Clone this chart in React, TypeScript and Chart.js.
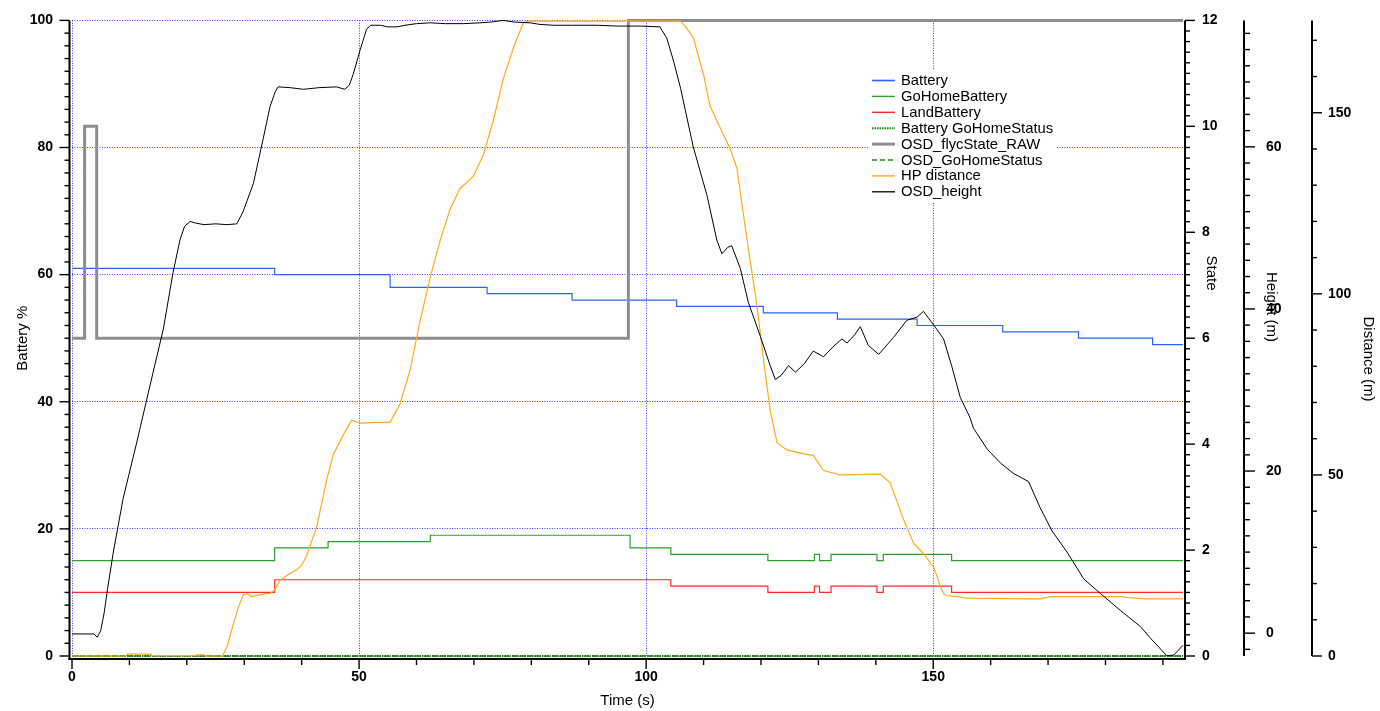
import React, { useEffect, useRef } from 'react';
import { Chart, registerables } from 'chart.js';

Chart.register(...registerables);

const FONT = '"Liberation Sans", Arial, Helvetica, sans-serif';

// ---------- axes ----------
const timeMin = 0;
const timeMax = 193.5;
const batteryMin = 0;
const batteryMax = 100;
const stateMin = 0;
const stateMax = 12;
const heightMin = -2.82;
const heightMax = 75.6;
const distMin = 0;
const distMax = 175.5;

const xTitle = 'Time (s)';
const batteryTitle = 'Battery %';
const stateTitle = 'State';
const heightTitle = 'Height (m)';
const distTitle = 'Distance (m)';

// ---------- series ----------
const batteryT = [0, 35.3, 55.4, 72.3, 87.1, 105.3, 120.4, 133.3, 147.2, 162.1, 175.3, 188.2, 193.5];
const batteryV = [61, 60, 58, 57, 56, 55, 54, 53, 52, 51, 50, 49, 49];

const goHomeT = [0, 35.3, 44.6, 62.4, 97.2, 104.3, 121.2, 129.3, 130.2, 132.2, 140.2, 141.3, 153.2, 193.5];
const goHomeV = [15, 17, 18, 19, 17, 16, 15, 16, 15, 16, 15, 16, 15, 15];

const landT = [0, 35.3, 104.3, 121.2, 129.3, 130.2, 132.2, 140.2, 141.3, 153.2, 193.5];
const landV = [10, 12, 11, 10, 11, 10, 11, 10, 11, 10, 10];

const statusT = [0, 193.5];
const batteryGoHomeStatusV = [0, 0];
const osdGoHomeStatusV = [0, 0];

const flycT = [0, 2.2, 4.3, 96.9, 193.5];
const flycV = [6, 10, 6, 12, 12];

const distT = [
  0, 9.3, 9.6, 13.8, 14.0, 21.6, 21.8, 23.0, 23.2, 26.2, 27.0, 28.1, 29.0, 29.8, 30.5, 31.3, 33.0, 34.5, 35.2,
  36.2, 37.4, 39.1, 40.0, 40.9, 42.6, 44.4, 45.5, 47.3, 48.7, 50.2, 53.0, 55.4, 57.1, 58.9, 60.6, 62.4, 64.1,
  65.9, 67.6, 69.9, 71.7, 73.4, 75.1, 76.9, 78.6, 79.5, 90.0, 106.0, 107.0, 108.2, 110.0, 111.1, 112.9, 114.6,
  115.8, 117.5, 119.3, 120.4, 121.6, 122.8, 124.5, 127.4, 129.1, 130.9, 133.8, 140.8, 142.5, 144.8, 146.6,
  148.3, 150.1, 151.2, 151.8, 152.4, 154.1, 155.9, 168.6, 170.4, 182.6, 184.0, 187.2, 193.5,
];
const distV = [
  0, 0, 0.5, 0.5, 0.1, 0.1, 0.3, 0.3, 0, 0, 2.5, 8.8, 13.5, 16.8, 17.2, 16.4, 17.0, 17.3, 18.0,
  20.8, 22.2, 23.8, 25.0, 27.8, 35.5, 48.9, 55.6, 61.2, 65.1, 64.3, 64.5, 64.5, 69.5, 79.0, 92.3, 104.6, 114.6,
  123.6, 129.1, 132.4, 138.6, 148.0, 159.2, 168.0, 174.8, 175.3, 175.3, 175.3, 173.5, 170.8, 160.5, 152.0, 145.8, 140.2,
  134.7, 115.7, 96.8, 82.3, 67.8, 58.9, 56.9, 55.8, 55.4, 51.2, 50.0, 50.2, 47.8, 37.8, 31.1,
  28.3, 24.4, 19.5, 17.2, 16.7, 16.4, 16.0, 15.8, 16.4, 16.4, 16.1, 15.8, 15.8,
];

const heightT = [
  0, 3.8, 4.4, 5.0, 5.6, 6.2, 7.2, 8.9, 11.3, 13.6, 15.9, 17.6, 18.8, 19.6, 20.6, 21.5, 23.0, 25.0, 27.0, 28.7,
  29.8, 31.6, 33.3, 34.5, 35.4, 35.9, 38.0, 40.3, 43.0, 46.1, 47.5, 48.3, 49.0, 50.2, 51.3, 52.0, 53.7, 55.0,
  56.6, 58.0, 60.0, 62.4, 65.0, 68.2, 71.0, 73.0, 75.1, 77.0, 79.8, 81.5, 83.9, 87.0, 91.4, 95.0, 99.0, 102.4,
  103.6, 104.8, 106.0, 108.2, 110.6, 112.3, 113.2, 114.2, 114.9, 116.4, 117.8, 119.9, 121.6, 122.5, 123.5,
  124.8, 126.0, 127.5, 129.1, 130.9, 132.5, 134.1, 135.0, 136.3, 137.3, 138.7, 140.5, 143.1, 145.4, 147.2,
  148.3, 150.1, 151.8, 153.2, 154.7, 156.4, 157.0, 159.4, 161.7, 164.0, 166.6, 168.6, 170.7, 173.3, 176.2,
  179.1, 182.6, 186.1, 187.8, 190.7, 191.9, 193.5,
];
const heightV = [
  -0.1, -0.1, -0.5, 0.3, 2.5, 5.5, 10.0, 16.6, 23.6, 30.6, 37.5, 44.5, 48.5, 50.2, 50.8, 50.6, 50.4, 50.5, 50.4, 50.5,
  52.0, 55.5, 61.0, 65.0, 66.8, 67.4, 67.3, 67.1, 67.3, 67.4, 67.1, 67.6, 69.0, 72.0, 74.5, 75.0, 75.0, 74.8,
  74.8, 75.0, 75.2, 75.3, 75.2, 75.2, 75.3, 75.4, 75.6, 75.4, 75.3, 75.1, 75.0, 75.0, 75.0, 74.9, 74.9, 74.8,
  73.4, 70.5, 67.2, 60.0, 54.0, 48.5, 46.8, 47.6, 47.8, 45.0, 40.8, 36.6, 33.0, 31.3, 31.8,
  33.0, 32.2, 33.2, 34.8, 34.1, 35.3, 36.3, 35.8, 36.8, 37.8, 35.5, 34.4, 36.5, 38.6, 39.0,
  39.7, 38.0, 36.3, 33.0, 29.1, 26.6, 25.3, 22.7, 21.0, 19.7, 18.7, 15.5, 12.6, 10.0, 6.7,
  4.9, 2.8, 0.8, -0.6, -2.8, -2.7, -1.5,
];

const seriesLabels = [
  'Battery',
  'GoHomeBattery',
  'LandBattery',
  'Battery GoHomeStatus',
  'OSD_flycState_RAW',
  'OSD_GoHomeStatus',
  'HP distance',
  'OSD_height',
];

const GRID_COLOR = '#3a3aff';

const pts = (t: number[], v: number[]) => t.map((x, i) => ({ x, y: v[i] }));

const framePlugin = {
  id: 'frameAndLegend',
  afterDraw(chart: any) {
    const { ctx, chartArea: ca, scales } = chart;
    ctx.save();
    ctx.strokeStyle = '#000';
    ctx.fillStyle = '#000';
    const seg = (x1: number, y1: number, x2: number, y2: number, w: number) => {
      ctx.lineWidth = w;
      ctx.beginPath();
      ctx.moveTo(x1, y1);
      ctx.lineTo(x2, y2);
      ctx.stroke();
    };
    const leftX = ca.left - 2.5;
    const bottomY = ca.bottom + 3;
    const stateX = ca.right + 2;

    // left battery axis
    seg(leftX, ca.top, leftX, bottomY + 1, 2);
    const yB = scales.yB;
    for (let k = 0; k <= 50; k++) {
      const py = yB.getPixelForValue(k * 2);
      seg(leftX - (k % 10 === 0 ? 10 : 5), py, leftX, py, 1.4);
    }
    // bottom time axis
    seg(leftX - 1, bottomY, stateX + 1, bottomY, 2);
    const xs = scales.x;
    for (let k = 0; k <= 19; k++) {
      const px = xs.getPixelForValue(k * 10);
      seg(px, bottomY, px, bottomY + (k % 5 === 0 ? 10 : 6), 1.4);
    }
    // state axis
    seg(stateX, ca.top, stateX, bottomY + 1, 2);
    const yS = scales.yS;
    for (let k = 0; k <= 60; k++) {
      const py = yS.getPixelForValue(k * 0.2);
      seg(stateX, py, stateX + (k % 10 === 0 ? 10 : 5), py, 1.4);
    }
    // height axis
    const yH = scales.yH;
    const hx = yH.left;
    seg(hx, ca.top, hx, ca.bottom, 2);
    for (let k = -1; k <= 37; k++) {
      const py = yH.getPixelForValue(k * 2);
      seg(hx, py, hx + (k % 10 === 0 ? 11 : 6), py, 1.4);
    }
    // distance axis
    const yD = scales.yD;
    const dx = yD.left;
    seg(dx, ca.top, dx, ca.bottom, 2);
    for (let k = 0; k <= 17; k++) {
      const py = yD.getPixelForValue(k * 10);
      seg(dx, py, dx + (k % 5 === 0 ? 10 : 5), py, 1.4);
    }

    // right-hand axis titles
    ctx.font = `15px ${FONT}`;
    ctx.textAlign = 'center';
    ctx.textBaseline = 'middle';
    const rotTitle = (text: string, x: number, y: number) => {
      ctx.save();
      ctx.translate(x, y);
      ctx.rotate(Math.PI / 2);
      ctx.fillText(text, 0, 0);
      ctx.restore();
    };
    rotTitle(stateTitle, stateX + 26, 273);
    rotTitle(heightTitle, hx + 27, 307);
    rotTitle(distTitle, dx + 56, 359);

    // legend
    ctx.fillStyle = '#fff';
    ctx.fillRect(869, 70, 187, 133);
    ctx.font = `14.8px ${FONT}`;
    ctx.textAlign = 'left';
    chart.data.datasets.forEach((ds: any, i: number) => {
      const y = 80.5 + i * 15.9;
      ctx.strokeStyle = ds.borderColor;
      ctx.lineWidth = ds.legendWidth || ds.borderWidth;
      ctx.setLineDash(ds.borderDash || []);
      ctx.beginPath();
      ctx.moveTo(872, y);
      ctx.lineTo(895, y);
      ctx.stroke();
      ctx.setLineDash([]);
      ctx.fillStyle = '#000';
      ctx.fillText(ds.label, 901, y + 0.5);
    });
    ctx.restore();
  },
};

export default function App() {
  const ref = useRef<HTMLCanvasElement | null>(null);

  useEffect(() => {
    if (!ref.current) return;
    Chart.defaults.font.family = FONT;
    const datasets: any[] = [
      { label: seriesLabels[0], data: pts(batteryT, batteryV), yAxisID: 'yB', stepped: true, borderColor: '#2b63ff', borderWidth: 1.2, legendWidth: 1.6 },
      { label: seriesLabels[1], data: pts(goHomeT, goHomeV), yAxisID: 'yB', stepped: true, borderColor: '#2ca02c', borderWidth: 1.2, legendWidth: 1.4 },
      { label: seriesLabels[2], data: pts(landT, landV), yAxisID: 'yB', stepped: true, borderColor: '#ff2a2a', borderWidth: 1.2, legendWidth: 1.4 },
      { label: seriesLabels[3], data: pts(statusT, batteryGoHomeStatusV), yAxisID: 'yB', borderColor: '#138a13', borderWidth: 2, borderDash: [1.5, 1], bgLine: true },
      { label: seriesLabels[4], data: pts(flycT, flycV), yAxisID: 'yS', stepped: true, borderColor: '#8e8e8e', borderWidth: 3 },
      { label: seriesLabels[5], data: pts(statusT, osdGoHomeStatusV), yAxisID: 'yS', borderColor: '#138a13', borderWidth: 1.3, borderDash: [5, 3] },
      { label: seriesLabels[6], data: pts(distT, distV), yAxisID: 'yD', borderColor: '#ffab1a', borderWidth: 1.2, legendWidth: 1.4 },
      { label: seriesLabels[7], data: pts(heightT, heightV), yAxisID: 'yH', borderColor: '#000000', borderWidth: 1, legendWidth: 1.3 },
    ];
    datasets.forEach((d, i) => {
      d.order = 10 - i;
      d.pointRadius = 0;
      d.fill = false;
      d.tension = 0;
      d.clip = 4;
    });

    const tickFont = { size: 14, weight: 'bold' as const, family: FONT };
    const hiddenGrid = { drawOnChartArea: false, tickLength: 10, tickColor: 'transparent' };

    const chart = new Chart(ref.current, {
      type: 'line',
      data: { datasets },
      options: {
        animation: false,
        responsive: false,
        devicePixelRatio: 1,
        layout: { padding: { top: 17, left: 0, right: 0, bottom: 0 } },
        plugins: { legend: { display: false }, tooltip: { enabled: false } },
        scales: {
          x: {
            type: 'linear',
            position: 'bottom',
            min: timeMin,
            max: timeMax,
            afterFit: (s: any) => { s.height = 55; },
            ticks: { stepSize: 50, includeBounds: false, font: tickFont, color: '#000', padding: 3, maxRotation: 0, autoSkip: false },
            grid: { color: GRID_COLOR, lineWidth: 1, tickLength: 10, tickColor: 'transparent' },
            border: { display: false, dash: [1, 1.5] },
            title: { display: true, text: xTitle, color: '#000', font: { size: 15, family: FONT }, padding: { top: 0, bottom: 1 } },
          },
          yB: {
            type: 'linear',
            position: 'left',
            min: batteryMin,
            max: batteryMax,
            afterFit: (s: any) => { s.width = 72; },
            ticks: { stepSize: 20, font: tickFont, color: '#000', padding: 9 },
            grid: { color: GRID_COLOR, lineWidth: 1, tickLength: 10, tickColor: 'transparent' },
            border: { display: false, dash: [1, 1.5] },
            title: { display: true, text: batteryTitle, color: '#000', font: { size: 15, family: FONT }, padding: { top: 14, bottom: 0 } },
          },
          yS: {
            type: 'linear',
            position: 'right',
            weight: 1,
            min: stateMin,
            max: stateMax,
            afterFit: (s: any) => { s.width = 61; },
            ticks: { stepSize: 2, font: tickFont, color: '#000', padding: 9 },
            grid: hiddenGrid,
            border: { display: false },
          },
          yH: {
            type: 'linear',
            position: 'right',
            weight: 2,
            min: heightMin,
            max: heightMax,
            afterFit: (s: any) => { s.width = 68; },
            ticks: { stepSize: 20, includeBounds: false, font: tickFont, color: '#000', padding: 12 },
            grid: hiddenGrid,
            border: { display: false },
          },
          yD: {
            type: 'linear',
            position: 'right',
            weight: 3,
            min: distMin,
            max: distMax,
            afterFit: (s: any) => { s.width = 68; },
            ticks: { stepSize: 50, includeBounds: false, font: tickFont, color: '#000', padding: 6 },
            grid: hiddenGrid,
            border: { display: false },
          },
        },
      } as any,
      plugins: [framePlugin as any],
    });
    return () => chart.destroy();
  }, []);

  return (
    <div style={{ position: 'absolute', left: 0, top: 0, width: 1380, height: 711, background: '#fff' }}>
      <canvas ref={ref} width={1380} height={711} style={{ display: 'block' }} />
    </div>
  );
}
